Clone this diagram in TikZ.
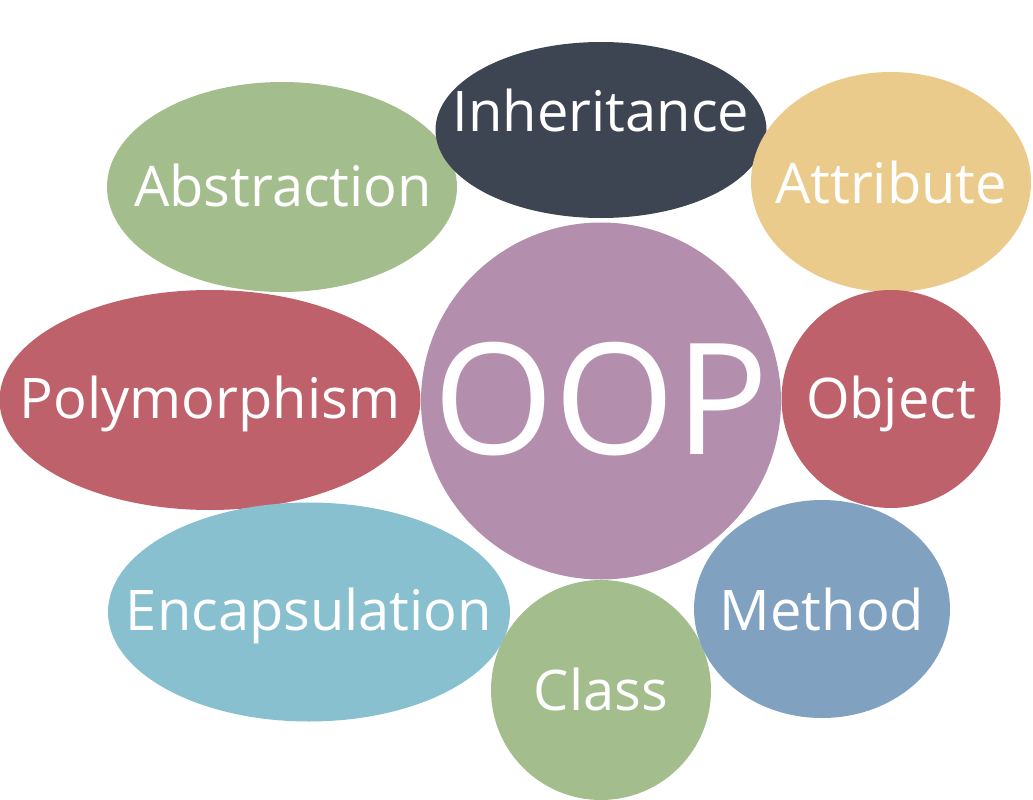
\documentclass[tikz,border=0pt]{standalone}
\usepackage{fontspec}
\setmainfont{Open Sans}
\usepackage{xcolor}
\usepackage{tikz}
\usetikzlibrary{shapes.geometric}

\definecolor{nordDark}{HTML}{3D4452}
\definecolor{nordGreen}{HTML}{A3BE8C}
\definecolor{nordYellow}{HTML}{EBCB8B}
\definecolor{nordRed}{HTML}{BF616A}
\definecolor{nordPurple}{HTML}{B48EAD}
\definecolor{nordCyan}{HTML}{88C0D0}
\definecolor{nordBlue}{HTML}{81A1C1}

\tikzset{
    bubble/.style={ellipse, inner sep=0pt, draw=none},
    word/.style={text=white, inner sep=0pt, text height=40pt, text depth=0pt,
        font=\fontsize{56}{60}\selectfont}
}

\begin{document}
\begin{tikzpicture}[x=1pt, y=-1pt]
    \useasboundingbox (0,0) rectangle (1033,800);
    % outer bubbles
    \node[bubble, fill=nordGreen, minimum width=350, minimum height=210] (abstr) at (282,187) {};
    \node[bubble, fill=nordDark, minimum width=331, minimum height=176] (inher) at (601,130) {};
    \node[bubble, fill=nordYellow, minimum width=280, minimum height=220] (attr) at (891,182) {};
    \node[bubble, fill=nordRed, minimum width=421, minimum height=220] (poly) at (210,400) {};
    \node[bubble, fill=nordRed, minimum width=219, minimum height=218] (obj) at (891,399) {};
    \node[bubble, fill=nordCyan, minimum width=402, minimum height=219] (encap) at (309,612) {};
    \node[bubble, fill=nordGreen, minimum width=220, minimum height=220] (cls) at (601,690) {};
    \node[bubble, fill=nordBlue, minimum width=256, minimum height=218] (meth) at (822,609) {};
    % centre
    \node[bubble, fill=nordPurple, minimum width=360, minimum height=357] (oop) at (601,401) {};

    \node[word] (abstrT) at (283,186) {Abstraction};
    \node[word] (inherT) at (601,111) {Inheritance};
    \node[word] (attrT) at (891,183) {Attribute};
    \node[word] (polyT) at (210,398) {Polymorphism};
    \node[word] (objT) at (891,398) {Object};
    \node[word] (encapT) at (309,610) {Encapsulation};
    \node[word] (clsT) at (601,690) {Class};
    \node[word] (methT) at (822,610) {Method};
    \node[word, text height=110pt, font=\fontsize{155}{160}\selectfont] (oopT) at (601,399) {OOP};
\end{tikzpicture}
\end{document}
